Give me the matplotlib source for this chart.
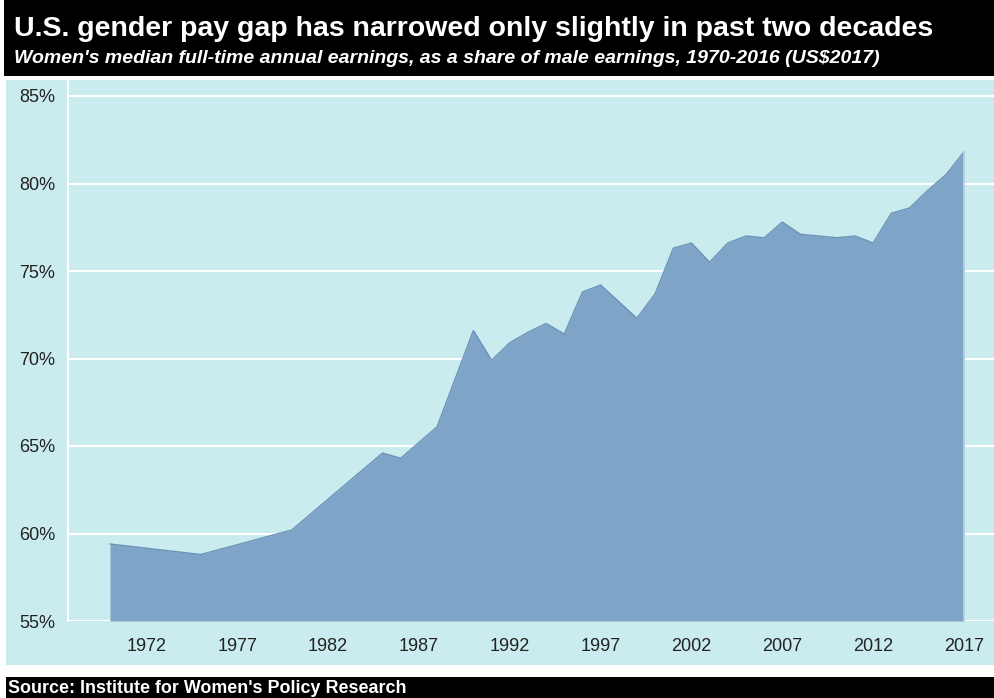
import matplotlib
matplotlib.use("Agg")
import matplotlib.pyplot as plt
from matplotlib.patches import Rectangle

# Women's earnings as a share of men's (%), by year
years = [1970, 1975, 1980, 1985, 1986, 1988, 1990, 1991, 1992, 1993, 1994,
         1995, 1996, 1997, 1999, 2000, 2001, 2002, 2003, 2004, 2005, 2006,
         2007, 2008, 2009, 2010, 2011, 2012, 2013, 2014, 2015, 2016, 2017]
share = [59.4, 58.8, 60.2, 64.6, 64.3, 66.1, 71.6, 69.9, 70.9, 71.5, 72.0,
         71.4, 73.8, 74.2, 72.3, 73.7, 76.3, 76.6, 75.5, 76.6, 77.0, 76.9,
         77.8, 77.1, 77.0, 76.9, 77.0, 76.6, 78.3, 78.6, 79.6, 80.5, 81.8]
x_ticks = [1972, 1977, 1982, 1987, 1992, 1997, 2002, 2007, 2012, 2017]
y_ticks = [55, 60, 65, 70, 75, 80, 85]

title = "U.S. gender pay gap has narrowed only slightly in past two decades"
subtitle = ("Women's median full-time annual earnings, as a share of male earnings, "
            "1970-2016 (US$2017)")
source = "Source: Institute for Women's Policy Research"

W, H = 994, 698
BG = "#cbecef"
FILL = "#7ea5c7"
EDGE = "#6b93b8"
TXT = "#222222"

plt.rcParams["font.family"] = ["Liberation Sans", "DejaVu Sans"]

fig = plt.figure(figsize=(W / 100, H / 100), dpi=100)
fig.patch.set_facecolor("white")


def px_rect(x0, y0, x1, y1, color):
    fig.patches.append(Rectangle((x0 / W, 1 - y1 / H), (x1 - x0) / W, (y1 - y0) / H,
                                 transform=fig.transFigure, facecolor=color,
                                 edgecolor="none", zorder=-10))


# header, panel and footer bands
px_rect(4, 0, W, 76, "black")
px_rect(6, 80, W, 665, BG)
px_rect(6, 677, W, H, "black")

fig.text(14 / W, 1 - 35.5 / H, title, color="white", fontsize=20.5, fontweight="bold",
         va="baseline", ha="left")
fig.text(14 / W, 1 - 63 / H, subtitle, color="white", fontsize=14, fontweight="bold",
         fontstyle="italic", va="baseline", ha="left")
fig.text(8 / W, 1 - 693 / H, source, color="white", fontsize=12.9, fontweight="bold",
         va="baseline", ha="left")

# plot area
ax_left, ax_right, ax_top, ax_bottom = 68, 994, 80, 621
ax = fig.add_axes([ax_left / W, 1 - ax_bottom / H, (ax_right - ax_left) / W,
                   (ax_bottom - ax_top) / H])
ax.set_facecolor(BG)

px_per_year = 18.17
x0 = 1970 - (110 - ax_left) / px_per_year
x1 = 1970 + (ax_right - 110) / px_per_year
ax.set_xlim(x0, x1)
px_per_pct = 17.5
ax.set_ylim(55, 55 + (ax_bottom - ax_top) / px_per_pct)

ax.set_yticks(y_ticks)
ax.set_yticklabels([f"{v}%" for v in y_ticks])
ax.set_xticks(x_ticks)
ax.set_xticklabels([str(v) for v in x_ticks])
ax.tick_params(axis="both", length=0, labelsize=13, colors=TXT)
ax.tick_params(axis="y", pad=9)
ax.tick_params(axis="x", pad=12)

ax.grid(axis="y", color="white", linewidth=1.5, zorder=1)
ax.set_axisbelow(True)
for side in ["top", "right", "bottom"]:
    ax.spines[side].set_visible(False)
ax.spines["left"].set_color("white")
ax.spines["left"].set_linewidth(1.5)

ax.fill_between(years, share, 55, color=FILL, linewidth=0, zorder=2)
ax.plot(years, share, color=EDGE, linewidth=1.0, zorder=3)
ax.plot([years[-1], years[-1]], [55, share[-1]], color="#b9d6df", linewidth=1.2, zorder=3)

fig.savefig("out.png", dpi=100, facecolor=fig.get_facecolor())
